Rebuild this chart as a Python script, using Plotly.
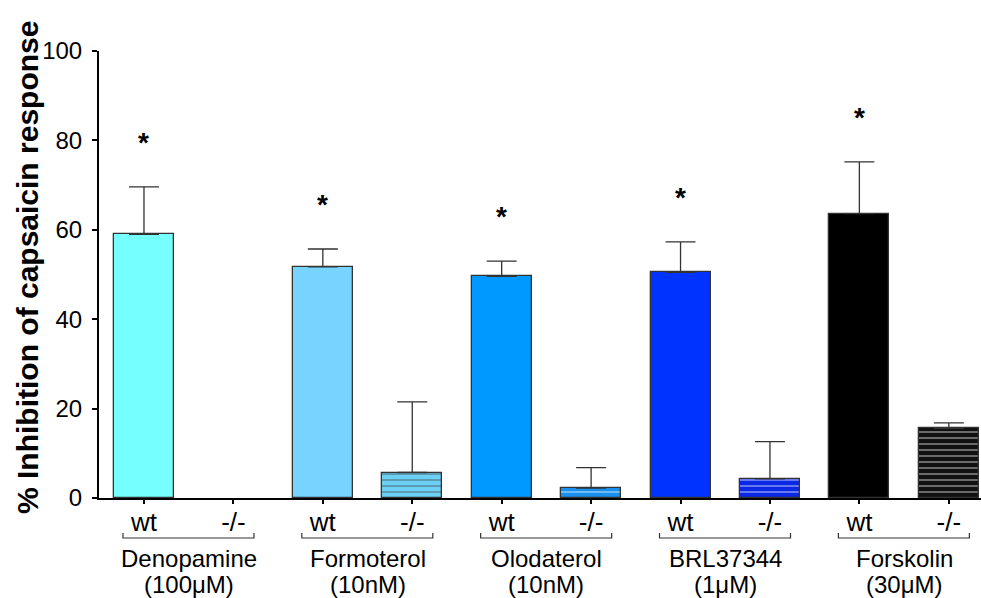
import plotly.graph_objects as go

groups = ["Denopamine", "Formoterol", "Olodaterol", "BRL37344", "Forskolin"]
doses = ["(100μM)", "(10nM)", "(10nM)", "(1μM)", "(30μM)"]
genotypes = ["wt", "-/-"]
wt_mean = [59.0, 51.7, 49.6, 50.5, 63.6]
wt_sem = [10.6, 4.0, 3.4, 6.8, 11.6]
ko_mean = [None, 5.7, 2.2, 4.3, 15.6]
ko_sem = [None, 15.8, 4.6, 8.3, 1.2]
wt_colors = ["#76FFFF", "#77D4FF", "#0099FF", "#0033FF", "#000000"]
ko_colors = ["#76FFFF", "#6CCFF5", "#1A90EE", "#0A28E6", "#111111"]
significant = [True, True, True, True, True]

FONT = "Liberation Sans, Arial, sans-serif"

xs, ys, errs, cols, shapes_p, labels = [], [], [], [], [], []
for i in range(len(groups)):
    xs += [2 * i, 2 * i + 1]
    ys += [wt_mean[i], ko_mean[i]]
    errs += [wt_sem[i], ko_sem[i]]
    cols += [wt_colors[i], ko_colors[i]]
    shapes_p += ["", "-"]
    labels += genotypes

fig = go.Figure()
fig.add_trace(go.Bar(
    x=xs, y=ys, width=0.671,
    marker=dict(color=cols, line=dict(color="#333333", width=1.3),
                pattern=dict(shape=shapes_p, fillmode="overlay", fgcolor="#999999",
                             size=6, solidity=0.25)),
    error_y=dict(type="data", array=errs, arrayminus=[0] * len(errs), symmetric=False,
                 color="#333333", thickness=1.3, width=15),
    showlegend=False,
))

annotations = []
shapes = []
plot_h = 447.0
for i, g in enumerate(groups):
    if significant[i]:
        annotations.append(dict(x=2 * i, y=wt_mean[i] + wt_sem[i] + 10, xref="x", yref="y",
                                text="<b>*</b>", showarrow=False, yanchor="middle",
                                font=dict(family=FONT, size=28, color="black")))
    x0 = 2 * i - 0.235
    x1 = 2 * i + 1 + 0.23
    yb = -40 / plot_h
    yh = -35 / plot_h
    shapes.append(dict(type="path", xref="x", yref="paper",
                       path=f"M {x0},{yh} L {x0},{yb} L {x1},{yb} L {x1},{yh}",
                       line=dict(color="#333333", width=1.2)))
    annotations.append(dict(x=2 * i + 0.5, y=-60 / plot_h, xref="x", yref="paper",
                            text=g, showarrow=False, yanchor="middle",
                            font=dict(family=FONT, size=24, color="black")))
    annotations.append(dict(x=2 * i + 0.5, y=-86 / plot_h, xref="x", yref="paper",
                            text=doses[i], showarrow=False, yanchor="middle",
                            font=dict(family=FONT, size=24, color="black")))

annotations.append(dict(x=(27 - 99) / 882.0, y=(498 - 268) / plot_h, xref="paper", yref="paper",
                        text="<b>% Inhibition of capsaicin response</b>", textangle=-90,
                        showarrow=False, xanchor="center", yanchor="middle",
                        font=dict(family=FONT, size=30, color="black")))

fig.update_layout(
    width=981, height=598,
    margin=dict(l=99, r=0, t=51, b=100),
    paper_bgcolor="white", plot_bgcolor="white",
    bargap=0,
    xaxis=dict(range=[-0.503, 9.36], tickmode="array", tickvals=xs, ticktext=labels,
               showgrid=False, zeroline=False, showline=True, linecolor="black", linewidth=2,
               ticks="outside", ticklen=4, tickwidth=2, tickcolor="black",
               ticklabelstandoff=-4,
               tickfont=dict(family=FONT, size=26, color="black")),
    yaxis=dict(range=[0, 100], tickvals=[0, 20, 40, 60, 80, 100],
               showgrid=False, zeroline=False, showline=True, linecolor="black", linewidth=2,
               ticks="outside", ticklen=5, tickwidth=2, tickcolor="black",
               ticklabelstandoff=5,
               tickfont=dict(family=FONT, size=24, color="black")),
    annotations=annotations,
    shapes=shapes,
)

fig.write_html("out.html")
